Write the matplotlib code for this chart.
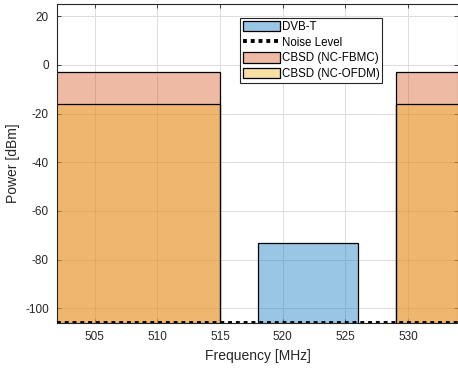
import matplotlib.pyplot as plt
from matplotlib.patches import Rectangle
from matplotlib.lines import Line2D

plt.rcParams['font.family'] = ['Liberation Sans', 'DejaVu Sans']
plt.rcParams['axes.unicode_minus'] = False

# spectrum blocks: (start MHz, stop MHz, top power dBm)
dvbt_band = (518, 526, -73)
fbmc_bands = [(500, 515, -3), (529, 540, -3)]
ofdm_bands = [(500, 515, -16), (529, 540, -16)]
noise_level = -106

xlim = (502, 534)
ylim = (-106, 25)
xticks = [505, 510, 515, 520, 525, 530]
yticks = [-100, -80, -60, -40, -20, 0, 20]

blue = (0.0, 0.447, 0.741, 0.4)
red = (0.85, 0.325, 0.098, 0.4)
yellow = (0.929, 0.694, 0.125, 0.4)
txt = '#262626'

fig = plt.figure(figsize=(4.58, 3.69), dpi=100)
ax = fig.add_axes([0.125, 0.1247, 0.8755, 0.8645])

floor = -120
for lo, hi, top in fbmc_bands:
    ax.add_patch(Rectangle((lo, floor), hi - lo, top - floor, facecolor=red,
                           edgecolor='black', linewidth=0.9, zorder=2))
for lo, hi, top in ofdm_bands:
    ax.add_patch(Rectangle((lo, floor), hi - lo, top - floor, facecolor=yellow,
                           edgecolor='black', linewidth=0.9, zorder=2))
lo, hi, top = dvbt_band
ax.add_patch(Rectangle((lo, floor), hi - lo, top - floor, facecolor=blue,
                       edgecolor='black', linewidth=0.9, zorder=2))
ax.axhline(noise_level, color='black', linestyle=(0, (1, 1)), linewidth=2.8, zorder=3)

ax.set_xlim(*xlim)
ax.set_ylim(*ylim)
ax.set_xticks(xticks)
ax.set_yticks(yticks)
ax.grid(True, color='#dcdcdc', linewidth=0.7, zorder=0)
ax.set_axisbelow(True)
ax.tick_params(direction='in', top=True, right=True, length=3, width=0.6,
               labelsize=8.5, colors=txt, labelcolor=txt, pad=6)
for s in ax.spines.values():
    s.set_color(txt)
    s.set_linewidth(0.8)
ax.set_xlabel('Frequency [MHz]', fontsize=10, color=txt, labelpad=4)
ax.set_ylabel('Power [dBm]', fontsize=10, color=txt, labelpad=4)

handles = [
    Rectangle((0, 0), 1, 1, facecolor=blue, edgecolor='black', linewidth=0.9),
    Line2D([], [], color='black', linestyle=(0, (1, 1)), linewidth=2.8),
    Rectangle((0, 0), 1, 1, facecolor=red, edgecolor='black', linewidth=0.9),
    Rectangle((0, 0), 1, 1, facecolor=yellow, edgecolor='black', linewidth=0.9),
]
labels = ['DVB-T', 'Noise Level', 'CBSD (NC-FBMC)', 'CBSD (NC-OFDM)']
leg = ax.legend(handles, labels, loc='upper left', bbox_to_anchor=(0.456, 0.957),
                fontsize=8.3, frameon=True, fancybox=False, framealpha=1,
                edgecolor='#262626', borderpad=0.25, labelspacing=0.3,
                handlelength=3.2, handleheight=1.05, handletextpad=0.15,
                borderaxespad=0)
leg.get_frame().set_linewidth(0.8)
leg.set_zorder(5)

fig.savefig('out.png', dpi=100)
